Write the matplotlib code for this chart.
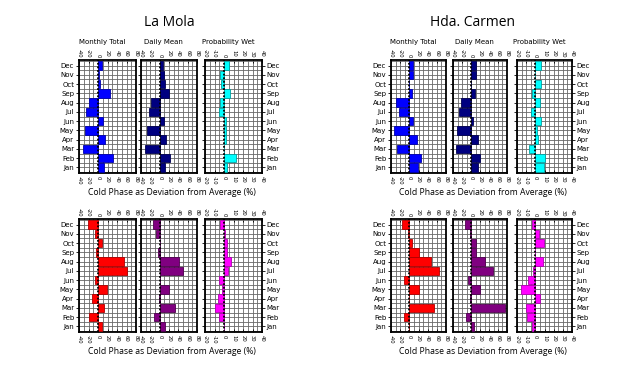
import matplotlib.pyplot as plt
import numpy as np

plt.rcParams["font.family"] = ["Open Sans", "DejaVu Sans"]
plt.rcParams["axes.unicode_minus"] = False

MONTHS = ["Jan", "Feb", "Mar", "Apr", "May", "Jun",
          "Jul", "Aug", "Sep", "Oct", "Nov", "Dec"]

# values listed Jan..Dec, deviation from average (%)
lamola_top_total = [12, 31, -31, 15, -28, 10, -25, -19, 25, 5, 3, 9]
lamola_top_daily = [12, 23, -32, 13, -28, 10, -22, -19, 21, 11, 9, 8]
lamola_top_wet = [3, 12.5, 0.5, 2.5, 2.5, 2.5, -5, -4, 6.5, -3, -4, 5]
lamola_bot_total = [9, -19, 13.5, -12.5, 18.5, -7, 60, 54, -4, 9, -7, -22]
lamola_bot_daily = [11, -13, 32, -2, 20.5, 0, 50.5, 41, -3.5, 0, -8, -15]
lamola_bot_wet = [0, -5, -10, -6.5, -2.5, -5.5, 4.5, 7.5, 3.5, 3.5, 1.5, -4]

carmen_top_total = [19, 25, -27, 17, -33, 7.5, -22, -29, 5, 0, 9, 9]
carmen_top_daily = [16, 20, -33, 16, -32, 5, -26, -23, 8.5, 0, 10, 10]
carmen_top_wet = [9, 10, -7, 3, 1.5, 6, -4.5, 5, -3.5, 6.5, 0, 6.5]
carmen_bot_total = [0, -11, 53, 0, 22, -12, 65, 47.5, 21, 5, -4, -17]
carmen_bot_daily = [6.5, -11, 76, -2, 20, -6, 48, 31.5, 11, 10, -3, -12.5]
carmen_bot_wet = [-3.5, -9, -10, 5, -16, -7.5, -2.5, 8, 0, 9.5, 4, -4]

SUBTITLES = ["Monthly Total", "Daily Mean", "Probability Wet"]
XLABEL = "Cold Phase as Deviation from Average (%)"

TOP_COLORS = [("#0000ff", "#0000aa"), ("#000080", "#000050"), ("#00ffff", "#00a0a0")]
BOT_COLORS = [("#ff0000", "#b00000"), ("#800080", "#500050"), ("#ff00ff", "#b000b0")]

NARROW = ["Liberation Sans Narrow", "DejaVu Sans"]

W, H = 640, 369
fig = plt.figure(figsize=(W / 100, H / 100), dpi=100)


def px_axes(x0, x1, y0, y1):
    return fig.add_axes([x0 / W, 1 - y1 / H, (x1 - x0) / W, (y1 - y0) / H])


def panel(ax, values, colors, kind, show_left, show_right):
    y = np.arange(1, 13)
    face, edge = colors
    ax.barh(y, values, height=0.9, color=face, edgecolor=edge, linewidth=0.6, zorder=3)
    ax.axvline(0, color="black", linestyle=(0, (1, 1)), linewidth=1.3, zorder=4)
    if kind == "wet":
        ax.set_xlim(-20, 40)
        ax.set_xticks(np.arange(-20, 41, 10))
        ax.set_xticks(np.arange(-20, 41, 5), minor=True)
    else:
        ax.set_xlim(-40, 80)
        ax.set_xticks(np.arange(-40, 81, 20))
        ax.set_xticks(np.arange(-40, 81, 10), minor=True)
    ax.set_ylim(0.4, 12.6)
    ax.set_yticks(y)
    ax.set_yticks(np.arange(0.5, 12.6, 0.5), minor=True)
    ax.grid(True, which="both", color="#666666", linewidth=0.6, zorder=0)
    ax.set_axisbelow(True)
    ax.tick_params(axis="x", which="major", top=True, bottom=True, labeltop=True,
                   labelbottom=True, direction="in", length=2, width=0.6,
                   labelsize=3.8, labelrotation=270, pad=2)
    ax.tick_params(axis="both", which="minor", length=0)
    ax.tick_params(axis="y", which="major", left=True, right=show_right,
                   labelleft=show_left, labelright=show_right,
                   direction="out", length=2, width=0.6, labelsize=5, pad=1.5)
    ax.set_yticklabels(MONTHS)
    for lab in ax.get_yticklabels() + ax.get_xticklabels():
        lab.set_family(NARROW)
    for s in ax.spines.values():
        s.set_linewidth(1.3)


def block(title, xs, title_x, xlabel_x, top_data, bot_data):
    kinds = ["total", "daily", "wet"]
    for i, (x0, x1) in enumerate(xs):
        ax = px_axes(x0, x1, 60, 173)
        panel(ax, top_data[i], TOP_COLORS[i], kinds[i], i == 0, i == 2)
        fig.text((x0 + x1) / 2 / W - 0.008, 1 - 42 / H, SUBTITLES[i], ha="center",
                 va="center", fontsize=5, family=NARROW)
        ax = px_axes(x0, x1, 219, 332)
        panel(ax, bot_data[i], BOT_COLORS[i], kinds[i], i == 0, i == 2)
    fig.text(title_x / W, 1 - 23 / H, title, ha="center", va="center", fontsize=10)
    fig.text(xlabel_x / W, 1 - 192 / H, XLABEL, ha="center", va="center", fontsize=6.2)
    fig.text(xlabel_x / W, 1 - 351 / H, XLABEL, ha="center", va="center", fontsize=6.2)


block("La Mola", [(79, 136), (141, 197), (205, 262)], 169, 172,
      [lamola_top_total, lamola_top_daily, lamola_top_wet],
      [lamola_bot_total, lamola_bot_daily, lamola_bot_wet])
block("Hda. Carmen", [(391, 446), (453, 507), (517, 572)], 473, 483,
      [carmen_top_total, carmen_top_daily, carmen_top_wet],
      [carmen_bot_total, carmen_bot_daily, carmen_bot_wet])

fig.savefig("out.png", dpi=100)
